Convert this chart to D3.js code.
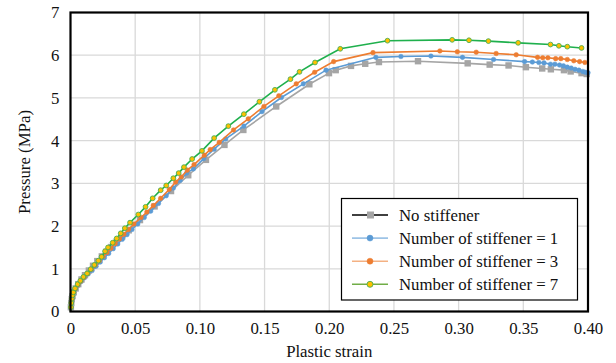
<!DOCTYPE html>
<html><head><meta charset="utf-8">
<script src="https://cdn.jsdelivr.net/npm/d3@7"></script>
<style>
#c text, #c .lbl { font-family: 'Liberation Serif', 'Times New Roman', serif !important; }
</style>
</head><body style="margin:0"><svg id="c" width="616" height="363" font-family="Liberation Serif"></svg>
<script>
const seriesNames = ["No stiffener","Number of stiffener = 1","Number of stiffener = 3","Number of stiffener = 7"];
const xTicks = [0,0.05,0.10,0.15,0.20,0.25,0.30,0.35,0.40];
const yTicks = [0,1,2,3,4,5,6,7];

const grayX = [0,0.0003,0.0006,0.001,0.0016,0.0025,0.004,0.006,0.0085,0.0112,0.0142,0.0174,0.0207,0.0242,0.0278,0.0316,0.0356,0.040,0.045,0.0537,0.065,0.0777,0.091,0.1047,0.119,0.1336,0.159,0.1846,0.1998,0.205,0.2168,0.2278,0.2384,0.2686,0.307,0.324,0.3386,0.352,0.3646,0.3713,0.3814,0.3866,0.395,0.399];
const grayY = [0,0.1,0.2,0.29,0.36,0.45,0.54,0.64,0.75,0.85,0.96,1.07,1.18,1.29,1.40,1.51,1.63,1.76,1.90,2.14,2.46,2.82,3.19,3.55,3.90,4.25,4.80,5.32,5.58,5.65,5.75,5.80,5.84,5.86,5.81,5.78,5.76,5.72,5.69,5.67,5.65,5.62,5.58,5.56];

const blueX = [0,0.0003,0.0006,0.001,0.0016,0.0024,0.0037,0.0058,0.0082,0.0108,0.0137,0.0167,0.0198,0.023,0.0262,0.0295,0.033,0.0365,0.040,0.0437,0.0475,0.052,0.057,0.062,0.068,0.074,0.0795,0.0848,0.0898,0.095,0.103,0.111,0.120,0.134,0.148,0.163,0.180,0.1975,0.236,0.2554,0.2786,0.303,0.327,0.351,0.357,0.362,0.366,0.371,0.3744,0.378,0.381,0.384,0.387,0.390,0.393,0.396,0.398,0.400];
const blueY = [0,0.1,0.2,0.3,0.37,0.44,0.52,0.61,0.70,0.79,0.88,0.96,1.06,1.16,1.26,1.36,1.47,1.58,1.69,1.80,1.92,2.05,2.20,2.35,2.53,2.71,2.89,3.07,3.24,3.34,3.58,3.80,4.04,4.34,4.68,5.01,5.33,5.65,5.95,5.97,5.98,5.95,5.90,5.85,5.84,5.83,5.82,5.79,5.79,5.77,5.75,5.72,5.70,5.67,5.65,5.62,5.60,5.59];

const orangeX = [0,0.0003,0.0006,0.001,0.0016,0.0024,0.0037,0.0057,0.008,0.0105,0.0133,0.0162,0.0192,0.0223,0.0252,0.0282,0.0312,0.0345,0.0378,0.0412,0.0448,0.049,0.0545,0.059,0.064,0.0697,0.0764,0.0813,0.0856,0.0903,0.0955,0.1034,0.108,0.115,0.126,0.1374,0.1495,0.161,0.1745,0.1887,0.2034,0.2338,0.2855,0.299,0.3136,0.329,0.3445,0.361,0.365,0.369,0.375,0.379,0.384,0.389,0.3935,0.3976];
const orangeY = [0,0.1,0.2,0.3,0.38,0.45,0.53,0.62,0.71,0.80,0.89,0.99,1.09,1.19,1.29,1.38,1.48,1.59,1.70,1.81,1.92,2.05,2.20,2.33,2.48,2.65,2.86,3.03,3.15,3.31,3.44,3.66,3.79,3.96,4.25,4.51,4.80,5.05,5.33,5.60,5.85,6.06,6.10,6.08,6.07,6.04,6.01,5.95,5.94,5.94,5.92,5.92,5.90,5.87,5.85,5.83];

const greenX = [0,0.0003,0.0006,0.001,0.0015,0.0022,0.0035,0.0055,0.0076,0.010,0.0128,0.0156,0.0184,0.0215,0.024,0.0267,0.029,0.0326,0.0357,0.0388,0.042,0.046,0.0524,0.058,0.0635,0.0697,0.074,0.0795,0.0836,0.0877,0.094,0.1016,0.111,0.122,0.134,0.146,0.158,0.170,0.177,0.189,0.2085,0.245,0.295,0.308,0.323,0.346,0.371,0.3775,0.384,0.395];
const greenY = [0,0.1,0.2,0.3,0.38,0.45,0.54,0.64,0.72,0.81,0.89,0.99,1.09,1.19,1.28,1.41,1.50,1.61,1.71,1.83,1.95,2.08,2.27,2.45,2.65,2.84,2.95,3.12,3.24,3.38,3.57,3.76,4.06,4.34,4.62,4.91,5.19,5.44,5.61,5.83,6.15,6.34,6.36,6.35,6.33,6.29,6.25,6.22,6.20,6.17];

const svg = d3.select("#c");
const L=70.5, R=588, T=12.5, B=311.5;
const FS = 16.8;
const x = d3.scaleLinear().domain([0,0.4]).range([L,R]);
const y = d3.scaleLinear().domain([0,7]).range([B,T]);

function label(sel){
  return sel.attr("class","lbl").attr("font-family","Liberation Serif")
    .style("font-family","'Liberation Serif'").attr("font-size",FS).attr("fill","#111");
}

// gridlines
svg.append("g").selectAll("line").data(xTicks.slice(1,-1)).join("line")
  .attr("x1",d=>x(d)).attr("x2",d=>x(d)).attr("y1",T).attr("y2",B)
  .attr("stroke","#d9d9d9").attr("stroke-width",1.3);
svg.append("g").selectAll("line").data(yTicks.slice(1,-1)).join("line")
  .attr("y1",d=>y(d)).attr("y2",d=>y(d)).attr("x1",L).attr("x2",R)
  .attr("stroke","#d9d9d9").attr("stroke-width",1.3);

// axes (labels only)
const xAxis = svg.append("g").attr("transform",`translate(0,${B})`)
  .call(d3.axisBottom(x).tickValues(xTicks).tickSize(0).tickPadding(11).tickFormat(d=>d===0?"0":d3.format(".2f")(d)));
const yAxis = svg.append("g").attr("transform",`translate(${L},0)`)
  .call(d3.axisLeft(y).tickValues(yTicks).tickSize(0).tickPadding(11).tickFormat(d3.format("d")));
[xAxis,yAxis].forEach(a=>{
  a.attr("font-family","Liberation Serif").attr("font-size",FS);
  a.select(".domain").remove();
  label(a.selectAll("text"));
});

const series = [
  {name:seriesNames[0], xs:grayX, ys:grayY, line:"#a5a5a5", legendLine:"#000", marker:"square", fill:"#a5a5a5", stroke:"#a5a5a5"},
  {name:seriesNames[1], xs:blueX, ys:blueY, line:"#5b9bd5", legendLine:"#9dc3e6", marker:"circle", fill:"#5b9bd5", stroke:"#5b9bd5"},
  {name:seriesNames[2], xs:orangeX, ys:orangeY, line:"#ed7d31", legendLine:"#f4b183", marker:"circle", fill:"#ed7d31", stroke:"#ed7d31"},
  {name:seriesNames[3], xs:greenX, ys:greenY, line:"#1fb04d", legendLine:"#70ad47", marker:"circle", fill:"#ffc000", stroke:"#4caf50"}
];
const line = d3.line().x(d=>x(d[0])).y(d=>y(d[1]));
function drawMarker(g, cx, cy, s){
  if(s.marker==="square"){
    g.append("rect").attr("x",cx-3.2).attr("y",cy-3.2).attr("width",6.4).attr("height",6.4).attr("fill",s.fill);
  } else {
    g.append("circle").attr("cx",cx).attr("cy",cy).attr("r",s===series[3]?2.4:2.3).attr("fill",s.fill).attr("stroke",s.stroke).attr("stroke-width",s===series[3]?0.9:0.5);
  }
}
series.forEach(s=>{
  const pts = s.xs.map((v,i)=>[v,s.ys[i]]);
  const g = svg.append("g");
  g.append("path").datum(pts).attr("d",line).attr("fill","none").attr("stroke",s.line).attr("stroke-width",1.6);
  pts.slice(1).forEach(p=>drawMarker(g,x(p[0]),y(p[1]),s));
});

// plot border
svg.append("rect").attr("x",L).attr("y",T).attr("width",R-L).attr("height",B-T)
  .attr("fill","none").attr("stroke","#000").attr("stroke-width",2.2);

// legend
const lg = svg.append("g");
lg.append("rect").attr("x",341.5).attr("y",198.5).attr("width",236).attr("height",101.5)
  .attr("fill","#fff").attr("stroke","#000").attr("stroke-width",1.2);
series.forEach((s,i)=>{
  const yy = 215 + i*23.1;
  lg.append("line").attr("x1",352).attr("x2",388).attr("y1",yy).attr("y2",yy).attr("stroke",s.legendLine).attr("stroke-width",1.6);
  if(s.marker==="square") lg.append("rect").attr("x",367).attr("y",yy-3.5).attr("width",7).attr("height",7).attr("fill",s.fill);
  else lg.append("circle").attr("cx",370).attr("cy",yy).attr("r",3).attr("fill",s.fill).attr("stroke",s.stroke).attr("stroke-width",s===series[3]?0.9:0.5);
  label(lg.append("text").attr("x",399).attr("y",yy+5.7)).text(s.name);
});

// axis titles
label(svg.append("text").attr("x",(L+R)/2).attr("y",357).attr("text-anchor","middle")).text("Plastic strain");
label(svg.append("text").attr("transform",`translate(30,${(T+B)/2}) rotate(-90)`).attr("text-anchor","middle")).text("Pressure (MPa)");
</script></body></html>
